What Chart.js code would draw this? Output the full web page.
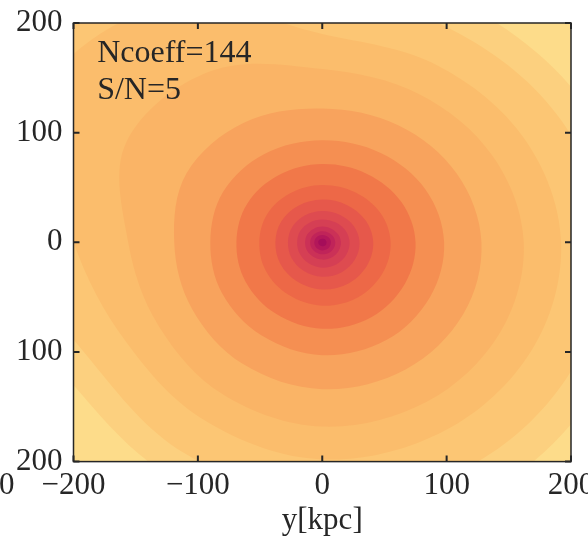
<!DOCTYPE html>
<html lang="en">
<head>
<meta charset="UTF-8">
<title>Ncoeff=144 surface density map</title>
<script src="https://cdn.jsdelivr.net/npm/chart.js"></script>
<style>
  html, body { margin: 0; padding: 0; background: #fff; overflow: hidden; }
  #wrap { width: 588px; height: 550px; }
</style>
</head>
<body>
<div id="wrap"><canvas id="map" width="588" height="550"></canvas></div>
<script>
// directions (degrees from +x) along which the contour radii were read
const angles = [0, 30, 60, 90, 120, 150, 180, 210, 240, 270, 300, 330];

// contour radii in kpc, innermost level first
const level1  = [3.5, 3.4, 3.4, 3.3, 3.3, 3.3, 3.2, 3.3, 3.5, 3.7, 3.7, 3.6];
const level2  = [7, 6.9, 6.7, 6.7, 6.6, 6.5, 6.4, 6.7, 7, 7.4, 7.4, 7.1];
const level3  = [10.5, 10.3, 10.1, 10, 9.9, 9.8, 9.7, 10, 10.5, 11, 11, 10.7];
const level4  = [15, 14.7, 14.4, 14.3, 14.1, 14, 13.8, 14.3, 15, 15.8, 15.8, 15.3];
const level5  = [22, 21.6, 21.1, 20.9, 20.7, 20.5, 20.2, 20.9, 22, 23.1, 23.1, 22.4];
const level6  = [30, 29.4, 28.8, 28.5, 28.2, 27.9, 27.6, 28.5, 30, 31.5, 31.5, 30.6];
const level7  = [41, 40.2, 39.4, 39, 38.5, 38.1, 37.7, 39, 41, 43, 43, 41.8];
const level8  = [55, 53.9, 52.8, 52.3, 51.7, 51.2, 50.6, 52.3, 55, 57.8, 57.8, 56.1];
const level9  = [75, 73.5, 72, 71.3, 70.5, 69.8, 69, 71.3, 75, 78.8, 78.8, 76.5];
const level10 = [98, 96, 94, 93, 93, 92, 90, 93, 98, 103, 103, 100];
const level11 = [128, 125, 123, 122, 126, 126, 119, 121, 128, 134, 134, 131];
const level12 = [162, 158, 156, 158, 180, 182, 156, 152, 160, 168, 168, 165];
const level13 = [192, 188, 186, 190, 250, 262, 200, 182, 188, 198, 198, 195];
const level14 = [228, 222, 220, 230, 300, 310, 250, 215, 222, 235, 236, 232];
const level15 = [255, 246, 245, 260, 350, 360, 290, 240, 246, 262, 264, 258];

const levelColors = ['#a50d5a', '#b3175a', '#c02459', '#cb3157', '#d53f54', '#de4b50', '#e6584b',
                     '#ed6847', '#f17849', '#f58f52', '#f8a35d', '#fab466', '#fbbd6c', '#fcc674',
                     '#fcd07f'];
const outerColor = '#fddc8a';

const tickValues = [-200, -100, 0, 100, 200];
const xTitle = 'y[kpc]';
const notes = ['Ncoeff=144', 'S/N=5'];
// tick label of the neighbouring panel, cut by the figure edge
const neighbourLabel = '200';

const contours = [level1, level2, level3, level4, level5, level6, level7, level8,
                  level9, level10, level11, level12, level13, level14, level15];

const serif = "'Liberation Serif', 'DejaVu Serif', serif";
const ink = '#262626';

function ring(radii) {
  const pts = radii.map((r, i) => {
    const a = angles[i] * Math.PI / 180;
    return { x: r * Math.cos(a), y: r * Math.sin(a) };
  });
  // wrap a point on both ends so the seam is smooth too
  return [pts[pts.length - 1], ...pts, pts[0], pts[1]];
}

const datasets = contours.map((radii, i) => ({
  data: ring(radii),
  showLine: true,
  fill: 'shape',
  backgroundColor: levelColors[i],
  borderColor: 'rgba(0,0,0,0)',
  borderWidth: 0,
  pointRadius: 0,
  tension: 0.35
}));

const framePlugin = {
  id: 'frame',
  beforeDatasetsDraw(chart) {
    const { ctx, chartArea: a } = chart;
    ctx.save();
    ctx.fillStyle = outerColor;
    ctx.fillRect(a.left, a.top, a.width, a.height);
    ctx.restore();
  },
  afterDatasetsDraw(chart) {
    const { ctx, chartArea: a, scales } = chart;
    ctx.save();
    ctx.strokeStyle = ink;
    ctx.lineWidth = 1.5;
    ctx.strokeRect(a.left, a.top, a.width, a.height);

    // matplotlib style ticks pointing inwards on all four sides
    ctx.lineWidth = 2;
    const len = 6;
    tickValues.forEach(v => {
      const x = scales.x.getPixelForValue(v);
      const y = scales.y.getPixelForValue(v);
      ctx.beginPath();
      ctx.moveTo(x, a.bottom); ctx.lineTo(x, a.bottom - len);
      ctx.moveTo(x, a.top); ctx.lineTo(x, a.top + len);
      ctx.moveTo(a.left, y); ctx.lineTo(a.left + len, y);
      ctx.moveTo(a.right, y); ctx.lineTo(a.right - len, y);
      ctx.stroke();
    });

    ctx.fillStyle = ink;
    ctx.font = '32px ' + serif;
    ctx.textAlign = 'left';
    ctx.textBaseline = 'alphabetic';
    ctx.fillText(notes[0], scales.x.getPixelForValue(-181), scales.y.getPixelForValue(164));
    ctx.fillText(notes[1], scales.x.getPixelForValue(-181), scales.y.getPixelForValue(131));

    ctx.font = '31px ' + serif;
    ctx.textAlign = 'right';
    ctx.textBaseline = 'middle';
    ctx.fillText(neighbourLabel, a.left - 59, a.bottom + 24);
    ctx.restore();
  }
};

new Chart(document.getElementById('map'), {
  type: 'scatter',
  data: { datasets },
  options: {
    responsive: false,
    animation: false,
    devicePixelRatio: 1,
    layout: { padding: { left: 5, right: 17, top: 23, bottom: 11 } },
    elements: { line: { capBezierPoints: false } },
    plugins: {
      legend: { display: false },
      tooltip: { enabled: false }
    },
    scales: {
      x: {
        type: 'linear',
        min: -200,
        max: 200,
        grid: { display: false, drawTicks: false },
        border: { display: false },
        afterBuildTicks: s => { s.ticks = tickValues.map(v => ({ value: v })); },
        afterFit: s => { s.paddingLeft = 0; s.paddingRight = 0; },
        ticks: {
          autoSkip: false,
          maxRotation: 0,
          padding: 6,
          color: ink,
          font: { family: serif, size: 31 },
          callback: v => (v < 0 ? '\u2212' + Math.abs(v) : String(v))
        },
        title: {
          display: true,
          text: xTitle,
          color: ink,
          font: { family: serif, size: 31 },
          padding: { top: -9, bottom: 0 }
        }
      },
      y: {
        type: 'linear',
        min: -200,
        max: 200,
        grid: { display: false, drawTicks: false },
        border: { display: false },
        afterBuildTicks: s => { s.ticks = tickValues.map(v => ({ value: v })); },
        afterFit: s => { s.paddingTop = 0; s.paddingBottom = 0; },
        ticks: {
          autoSkip: false,
          padding: 11,
          color: ink,
          font: { family: serif, size: 31 },
          // the minus signs fall outside the cropped figure
          callback: v => String(Math.abs(v))
        }
      }
    }
  },
  plugins: [framePlugin]
});
</script>
</body>
</html>
